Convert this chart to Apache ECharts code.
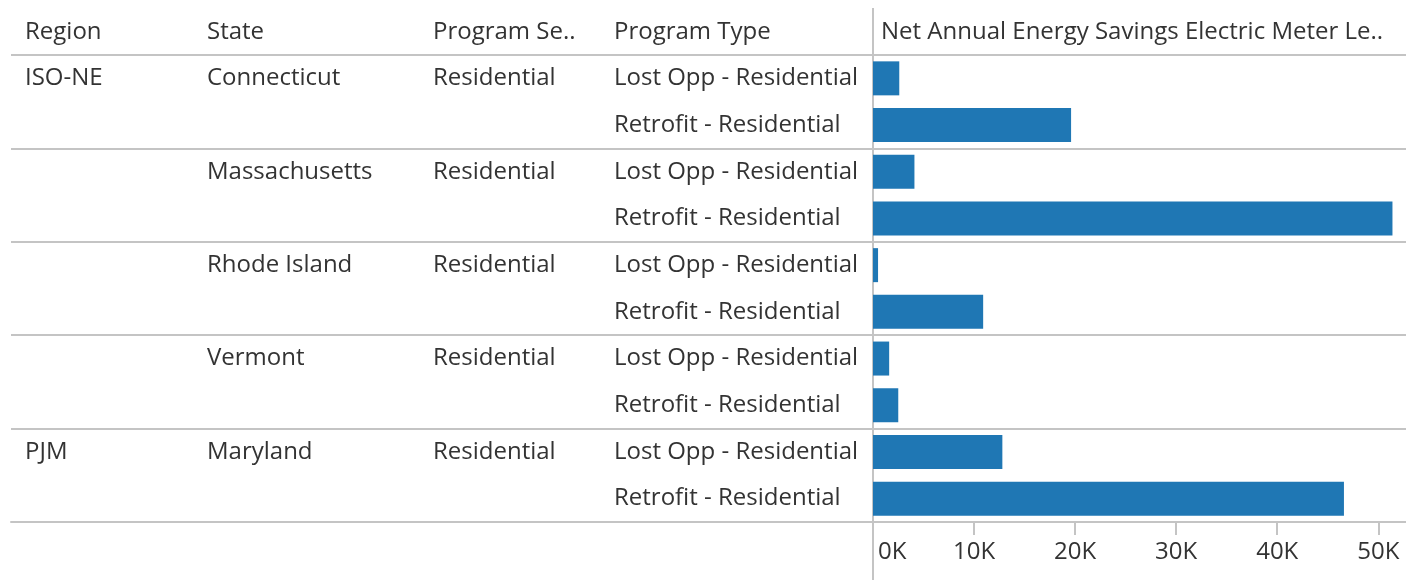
<!DOCTYPE html>
<html>
<head>
<meta charset="utf-8">
<script src="https://cdn.jsdelivr.net/npm/echarts@6/dist/echarts.min.js"></script>
<style>
  html, body { margin: 0; padding: 0; background: #fff; }
  #chart { width: 1406px; height: 580px; }
</style>
</head>
<body>
<div id="chart"></div>
<script>
const headers = ['Region', 'State', 'Program Se..', 'Program Type', 'Net Annual Energy Savings Electric Meter Le..'];
const states = ['Connecticut', 'Massachusetts', 'Rhode Island', 'Vermont', 'Maryland'];
const stateRegion = ['ISO-NE', 'ISO-NE', 'ISO-NE', 'ISO-NE', 'PJM'];
const stateSector = ['Residential', 'Residential', 'Residential', 'Residential', 'Residential'];
const programTypes = ['Lost Opp - Residential', 'Retrofit - Residential'];
const lostOpp = [2600, 4100, 500, 1600, 12800];
const retrofit = [19600, 51400, 10900, 2500, 46600];

const FONT = '"Open Sans"';
const FS = 24;
const TXT = '#333';
const LINE = '#c4c4c4';
const BAR = '#1f77b4';

// one row per state x program type
const rowIds = [], rowType = [], rowState = [], rowSector = [], rowRegion = [], rowValue = [];
states.forEach((s, i) => {
  programTypes.forEach((t, j) => {
    rowIds.push(s + '|' + t);
    rowType.push(t);
    rowState.push(j === 0 ? s : '');
    rowSector.push(j === 0 ? stateSector[i] : '');
    const firstOfRegion = j === 0 && (i === 0 || stateRegion[i - 1] !== stateRegion[i]);
    rowRegion.push(firstOfRegion ? stateRegion[i] : '');
    rowValue.push(j === 0 ? lostOpp[i] : retrofit[i]);
  });
});

const labelCol = (arr, margin) => ({
  type: 'category', gridIndex: 0, inverse: true, data: rowIds, position: 'left',
  axisLine: { show: false }, axisTick: { show: false }, splitLine: { show: false },
  axisLabel: {
    margin: margin, align: 'left', interval: 0,
    color: TXT, fontFamily: FONT, fontSize: FS,
    formatter: (v, idx) => arr[idx]
  }
});

// group separators (every second row), one per grid
const groupLines = gi => ({
  type: 'category', gridIndex: gi, inverse: true, data: rowIds,
  axisLine: { show: false }, axisTick: { show: false }, axisLabel: { show: false },
  splitLine: { show: true, interval: 1, lineStyle: { color: LINE, width: 2 } }
});

const chart = echarts.init(document.getElementById('chart'));
chart.setOption({
  animation: false,
  title: [
    { text: headers[0], left: 25 },
    { text: headers[1], left: 207 },
    { text: headers[2], left: 433 },
    { text: headers[3], left: 614 },
    { text: headers[4], left: 881 }
  ].map(t => Object.assign(t, {
    top: 20, padding: 0,
    textStyle: { color: TXT, fontFamily: FONT, fontSize: FS, fontWeight: 'normal', lineHeight: 24 }
  })),
  grid: [
    { left: 873, right: 0, top: 55, bottom: 58 },
    { left: 11, width: 862, top: 55, bottom: 58 }
  ],
  xAxis: [
    {
      type: 'value', gridIndex: 0, min: 0, max: 52740, interval: 10000,
      axisLine: { show: true, lineStyle: { color: LINE, width: 2 } },
      axisTick: { show: true, length: 13, lineStyle: { color: LINE, width: 2 } },
      splitLine: { show: false },
      axisLabel: {
        margin: 18, color: TXT, fontFamily: FONT, fontSize: FS,
        alignMinLabel: 'left', showMaxLabel: false,
        formatter: v => {
          if (v % 10000 !== 0) return '';
          return v === 0 ? '{first|0K}' : v / 1000 + 'K';
        },
        rich: { first: { padding: [0, 0, 0, 5], color: TXT, fontFamily: FONT, fontSize: FS } }
      }
    },
    {
      type: 'value', gridIndex: 1, min: 0, max: 1,
      axisLine: { show: true, lineStyle: { color: LINE, width: 2 } },
      axisTick: { show: false }, axisLabel: { show: false }, splitLine: { show: false }
    }
  ],
  yAxis: [
    labelCol(rowType, 259),
    labelCol(rowSector, 440),
    labelCol(rowState, 666),
    labelCol(rowRegion, 848),
    groupLines(0),
    groupLines(1)
  ],
  series: [{
    type: 'bar', xAxisIndex: 0, yAxisIndex: 0,
    data: rowValue, barWidth: 34,
    itemStyle: { color: BAR }
  }],
  graphic: [{
    type: 'line', silent: true,
    shape: { x1: 873, y1: 8, x2: 873, y2: 580 },
    style: { stroke: LINE, lineWidth: 2 }
  }]
});
</script>
</body>
</html>
